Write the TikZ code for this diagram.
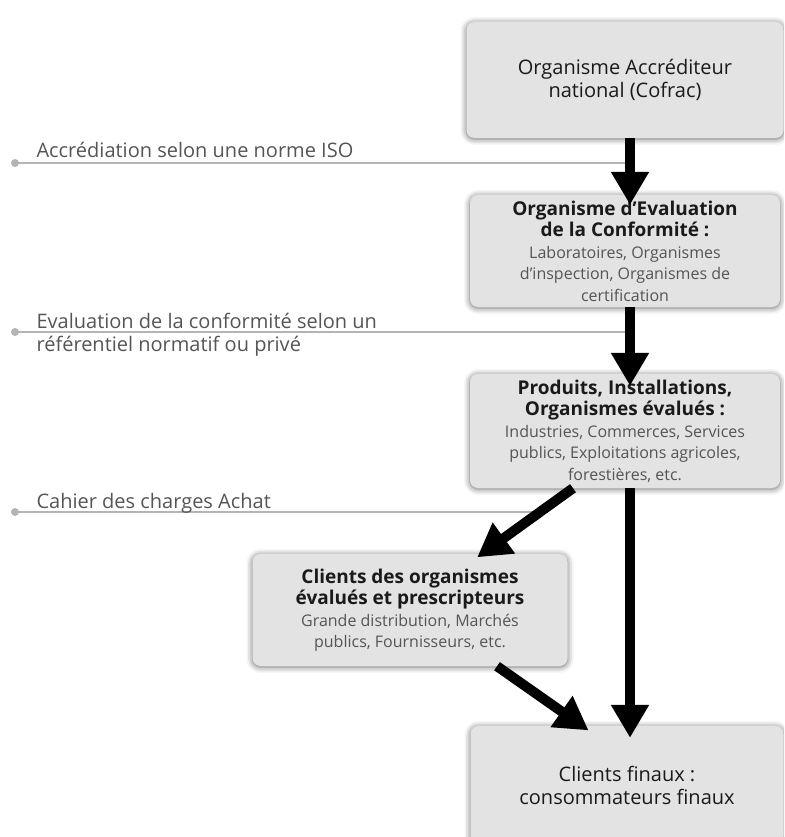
\documentclass[tikz,border=0pt]{standalone}
\usepackage{fontspec}
\setmainfont{Open Sans}
\usetikzlibrary{arrows.meta,shadows.blur}
\definecolor{boxgray}{HTML}{E3E3E3}
\definecolor{textdark}{HTML}{1A1A1A}
\definecolor{subgray}{HTML}{555555}
\definecolor{guidegray}{HTML}{B4B4B4}
\tikzset{
  box/.style={fill=boxgray,rounded corners=8pt,align=center,text=textdark,inner sep=3pt,
    font=\fontsize{20}{23}\selectfont,
    blur shadow={shadow xshift=0pt,shadow yshift=-1pt,shadow blur radius=6pt,shadow opacity=60,shadow blur extra rounding}},
  boldbox/.style={box,font=\fontsize{19}{21.5}\selectfont\bfseries},
  flow/.style={line width=10pt,-{Triangle[length=33pt,width=36pt]}},
  guide/.style={draw=guidegray,line width=2pt},
  note/.style={text=subgray,anchor=base west,align=left,font=\fontsize{20}{23}\selectfont},
}
\newcommand{\subtxt}{\color{subgray}\mdseries\fontsize{16}{19}\selectfont}
\begin{document}
\begin{tikzpicture}[x=1pt,y=-1pt]
\useasboundingbox (0,0) rectangle (784,837);
\clip (0,0) rectangle (784,837);
\coordinate (col) at (630,0);
% boxes
\node[box,minimum width=317pt,minimum height=116pt](accr)at(625,80)
  {Organisme Accréditeur\\national (Cofrac)};
\node[boldbox,minimum width=310pt,minimum height=112pt](eval)at(625,251)
  {Organisme d'Evaluation\\de la Conformité :\\
   \subtxt Laboratoires, Organismes\\\subtxt d'inspection, Organismes de\\\subtxt certification};
\node[boldbox,minimum width=310pt,minimum height=114pt](prod)at(625,431)
  {Produits, Installations,\\Organismes évalués :\\
   \subtxt Industries, Commerces, Services\\\subtxt publics, Exploitations agricoles,\\\subtxt forestières, etc.};
\node[boldbox,minimum width=315pt,minimum height=112pt](clients)at(410,610)
  {Clients des organismes\\évalués et prescripteurs\\
   \subtxt Grande distribution, Marchés\\\subtxt publics, Fournisseurs, etc.};
\node[box,minimum width=313pt,minimum height=118pt](final)at(627,785)
  {Clients finaux :\\consommateurs finaux};
% guide lines
\coordinate (g1) at (15,163);
\coordinate (g2) at (15,332);
\coordinate (g3) at (15,512);
\draw[guide](g1)--(g1 -| col);
\draw[guide](g2)--(g2 -| col);
\draw[guide](g3)--(535,512);
\foreach \g in {g1,g2,g3}
  \fill[guidegray](\g)circle(4pt);
\node[note](n1)at(33,158){Accrédiation selon une norme ISO};
\node[note](n2)at(33,351){Evaluation de la conformité selon un\\référentiel normatif ou privé};
\node[note](n3)at(33,508){Cahier des charges Achat};
% arrows
\draw[flow,shorten >=-10pt](accr.south -| col)--(eval.north -| col);
\draw[flow,shorten >=-12pt](eval.south -| col)--(prod.north -| col);
\draw[flow,shorten >=-6pt]([xshift=-52pt]prod.south)--([xshift=72pt]clients.north);
\draw[flow,shorten >=-12pt](prod.south -| col)--(final.north -| col);
\draw[flow,shorten >=-8pt]([xshift=87pt]clients.south)--([xshift=-45pt]final.north);
\end{tikzpicture}
\end{document}
